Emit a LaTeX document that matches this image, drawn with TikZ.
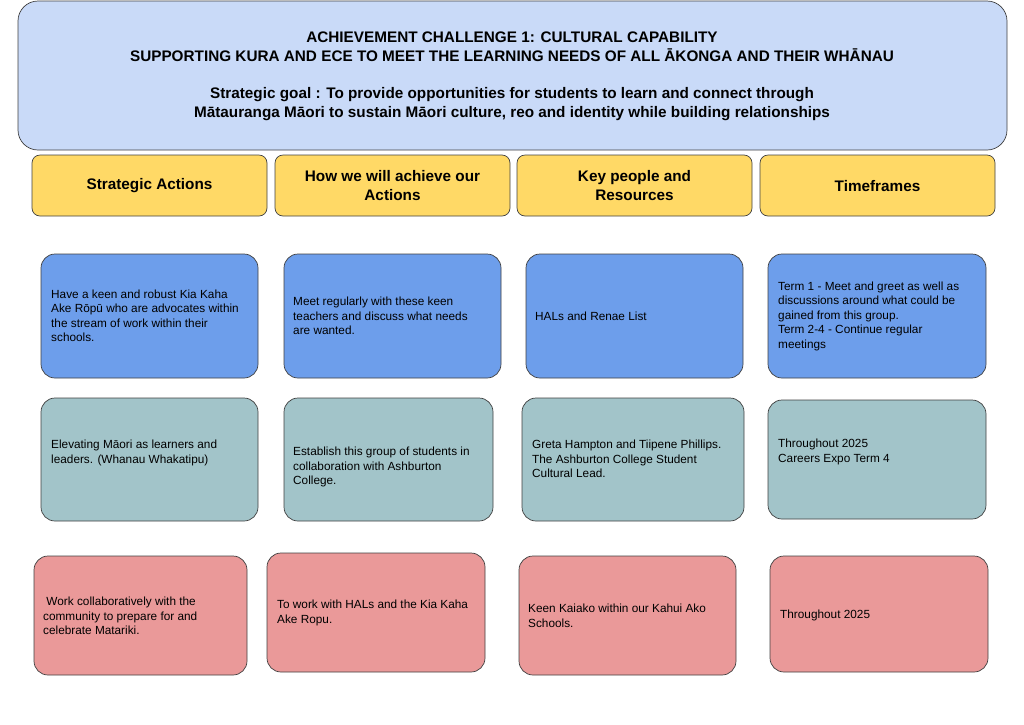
\documentclass[tikz,border=0pt]{standalone}
\usepackage{fontspec}
\setmainfont{Liberation Sans}
\definecolor{hdrblue}{HTML}{C9DAF8}
\definecolor{cellblue}{HTML}{6D9EEB}
\definecolor{cellteal}{HTML}{A2C4C9}
\definecolor{cellred}{HTML}{EA9999}
\definecolor{cellyellow}{HTML}{FFD966}
\tikzset{
    cell/.style={draw=black!75,line width=0.7pt,rounded corners=14pt},
    celltext/.style={anchor=west,align=left,inner sep=0pt,font=\fontsize{11.8}{14.5}\selectfont},
    headtext/.style={align=center,inner sep=0pt,font=\fontsize{15.3}{19}\selectfont\bfseries}
}
\begin{document}
\begin{tikzpicture}[x=1pt,y=-1pt]
    \useasboundingbox (0,0) rectangle (1024,724);
    % header
    \draw[cell,fill=hdrblue,rounded corners=20pt] (18,1) rectangle (1007,150);
    \node[headtext] (title) at (512,47) {ACHIEVEMENT CHALLENGE 1: CULTURAL CAPABILITY\\
        SUPPORTING KURA AND ECE TO MEET THE LEARNING NEEDS OF ALL ĀKONGA AND THEIR WHĀNAU};
    \node[headtext] (goal) at (512,104) {Strategic goal : To provide opportunities for students to learn and connect through\\
        Mātauranga Māori to sustain Māori culture, reo and identity while building relationships};
    % column heads
    \foreach \x/\t [count=\i] in {32/Strategic Actions,275/{How we will achieve our\\Actions},517/{Key people and\\Resources},760/Timeframes}
        {\draw[cell,fill=cellyellow,rounded corners=8pt] (\x,155) rectangle ++(235,61);
         \node[headtext] (col\i) at (\x+117.5,186) {\t};}
    % row 1
    \draw[cell,fill=cellblue] (41,254) rectangle (258,378);
    \node[celltext] (ra1) at (51,316) {Have a keen and robust Kia Kaha\\Ake Rōpū who are advocates within\\the stream of work within their\\schools.};
    \draw[cell,fill=cellblue] (284,254) rectangle (501,378);
    \node[celltext] (ra2) at (293,316) {Meet regularly with these keen\\teachers and discuss what needs\\are wanted.};
    \draw[cell,fill=cellblue] (526,254) rectangle (743,378);
    \node[celltext] (ra3) at (535,316) {HALs and Renae List};
    \draw[cell,fill=cellblue] (768,254) rectangle (986,378);
    \node[celltext] (ra4) at (778,316) {Term 1 - Meet and greet as well as\\discussions around what could be\\gained from this group.\\Term 2-4 - Continue regular\\meetings};
    % row 2
    \draw[cell,fill=cellteal] (41,398) rectangle (258,521);
    \node[celltext] (rb1) at (51,453) {Elevating Māori as learners and\\leaders. (Whanau Whakatipu)};
    \draw[cell,fill=cellteal] (284,398) rectangle (493,521);
    \node[celltext] (rb2) at (293,467) {Establish this group of students in\\collaboration with Ashburton\\College.};
    \draw[cell,fill=cellteal] (522,398) rectangle (744,521);
    \node[celltext] (rb3) at (532,459) {Greta Hampton and Tiipene Phillips.\\The Ashburton College Student\\Cultural Lead.};
    \draw[cell,fill=cellteal] (768,400) rectangle (986,519);
    \node[celltext] (rb4) at (778,452) {Throughout 2025\\Careers Expo Term 4};
    % row 3
    \draw[cell,fill=cellred] (34,556) rectangle (247,675);
    \node[celltext] (rc1) at (43,616) {\ Work collaboratively with the\\community to prepare for and\\celebrate Matariki.};
    \draw[cell,fill=cellred] (267,553) rectangle (485,672);
    \node[celltext] (rc2) at (277,613) {To work with HALs and the Kia Kaha\\Ake Ropu.};
    \draw[cell,fill=cellred] (519,556) rectangle (736,675);
    \node[celltext] (rc3) at (528,616) {Keen Kaiako within our Kahui Ako\\Schools.};
    \draw[cell,fill=cellred] (770,556) rectangle (988,672);
    \node[celltext] (rc4) at (780,615) {Throughout 2025};
\end{tikzpicture}
\end{document}
